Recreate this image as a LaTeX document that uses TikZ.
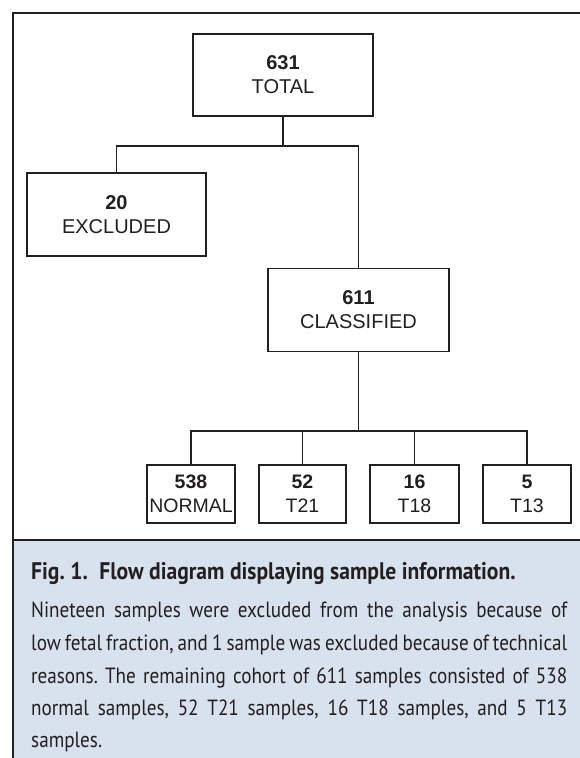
\documentclass[tikz,border=0pt]{standalone}
\usepackage{fontspec}
\setmainfont{Liberation Sans}
\newfontfamily\boxfont{Liberation Sans}
\newfontfamily\capfont[FakeStretch=0.87]{PT Sans}
\newfontfamily\captitlefont[FakeStretch=0.9]{PT Sans}
\definecolor{ink}{HTML}{231F20}
\definecolor{capblue}{HTML}{D8E1EE}
\frenchspacing
\tikzset{
  frameline/.style={draw=ink, line width=2pt},
  bigbox/.style={draw=ink, line width=1.6pt, fill=white, align=center, inner sep=0pt,
    font=\boxfont\fontsize{20}{24}\selectfont, text=ink},
  smallbox/.style={draw=ink, line width=1.1pt, fill=white, align=center, inner sep=0pt,
    minimum width=88pt, minimum height=58pt,
    font=\boxfont\fontsize{19.5}{24}\selectfont, text=ink},
  conn/.style={draw=ink, line width=1.6pt},
  captitle/.style={anchor=base west, inner sep=0pt, text=ink,
    font=\captitlefont\bfseries\fontsize{24}{28}\selectfont},
  capline/.style={anchor=base west, inner sep=0pt, text=ink,
    font=\capfont\fontsize{22}{26}\selectfont\frenchspacing}
}
\newcommand{\jline}[1]{\hbox to 536pt{#1}}
\begin{document}
\begin{tikzpicture}[x=1pt,y=-1pt]
\useasboundingbox (0,0) rectangle (579,758);
\fill[white] (0,0) rectangle (579,758);
% caption background
\fill[capblue] (13,540) rectangle (582,761);
% frame
\draw[frameline] (13,761) -- (13,13) -- (582,13);
\draw[frameline] (13,540) -- (582,540);

% boxes
\node[bigbox, minimum width=180pt, minimum height=82pt] (total) at (283,75) {\textbf{631}\\TOTAL};
\node[bigbox, minimum width=179pt, minimum height=83pt] (excl) at (116.5,214.5) {\textbf{20}\\EXCLUDED};
\node[bigbox, minimum width=181pt, minimum height=83pt] (class) at (358.5,310) {\textbf{611}\\CLASSIFIED};
\node[smallbox] (normal) at (191,494) {\textbf{538}\\NORMAL};
\node[smallbox, minimum width=87pt] (t21) at (302.5,494) {\textbf{52}\\T21};
\node[smallbox, minimum width=89pt] (t18) at (414.5,494) {\textbf{16}\\T18};
\node[smallbox] (t13) at (527,494) {\textbf{5}\\T13};

% connectors
\coordinate (j1) at (283,146);
\coordinate (j2) at (358.5,431);
\draw[conn] (total.south) -- (j1);
\draw[conn] (excl.north) |- (j1);
\draw[conn] (class.north) |- (j1);
\draw[conn] (class.south) -- (j2);
\draw[conn] (normal.north) |- (j2);
\draw[conn] (t21.north) |- (j2);
\draw[conn] (t18.north) |- (j2);
\draw[conn] (t13.north) |- (j2);

% caption
\node[captitle] (title) at (31,579) {Fig. 1.\hspace{0.25em} Flow diagram displaying sample information.};
\node[capline] (l1) at (31,617) {\jline{Nineteen samples were excluded from the analysis because of}};
\node[capline] (l2) at (31,650) {\jline{low fetal fraction, and 1 sample was excluded because of technical}};
\node[capline] (l3) at (31,683) {\jline{reasons. The remaining cohort of 611 samples consisted of 538}};
\node[capline] (l4) at (31,715) {\jline{normal samples, 52 T21 samples, 16 T18 samples, and 5 T13}};
\node[capline] (l5) at (31,747) {samples.};
\end{tikzpicture}
\end{document}
